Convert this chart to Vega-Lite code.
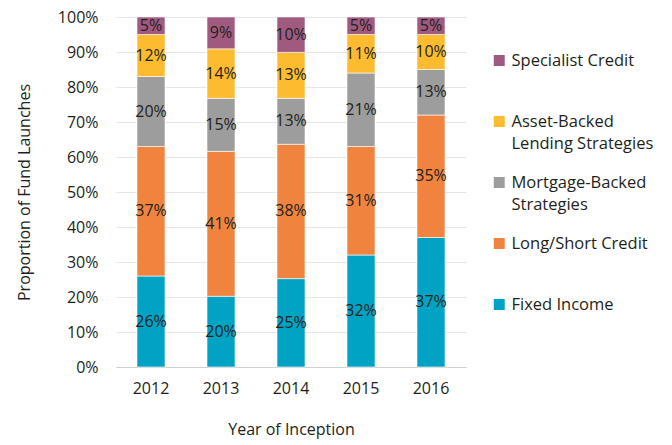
{
  "$schema": "https://vega.github.io/schema/vega-lite/v6.json",
  "width": 350,
  "height": 350,
  "autosize": {"type": "none"},
  "padding": {"left": 116, "top": 17, "right": 206, "bottom": 78},
  "background": "white",
  "config": {
    "font": "Open Sans",
    "view": {"stroke": null},
    "style": {"guide-label": {"lineHeight": 22}}
  },
  "data": {
    "values": [
      {"year": "2012", "series": "Fixed Income", "pct": 26},
      {"year": "2012", "series": "Long/Short Credit", "pct": 37},
      {"year": "2012", "series": "Mortgage-Backed Strategies", "pct": 20},
      {"year": "2012", "series": "Asset-Backed Lending Strategies", "pct": 12},
      {"year": "2012", "series": "Specialist Credit", "pct": 5},
      {"year": "2013", "series": "Fixed Income", "pct": 20},
      {"year": "2013", "series": "Long/Short Credit", "pct": 41},
      {"year": "2013", "series": "Mortgage-Backed Strategies", "pct": 15},
      {"year": "2013", "series": "Asset-Backed Lending Strategies", "pct": 14},
      {"year": "2013", "series": "Specialist Credit", "pct": 9},
      {"year": "2014", "series": "Fixed Income", "pct": 25},
      {"year": "2014", "series": "Long/Short Credit", "pct": 38},
      {"year": "2014", "series": "Mortgage-Backed Strategies", "pct": 13},
      {"year": "2014", "series": "Asset-Backed Lending Strategies", "pct": 13},
      {"year": "2014", "series": "Specialist Credit", "pct": 10},
      {"year": "2015", "series": "Fixed Income", "pct": 32},
      {"year": "2015", "series": "Long/Short Credit", "pct": 31},
      {"year": "2015", "series": "Mortgage-Backed Strategies", "pct": 21},
      {"year": "2015", "series": "Asset-Backed Lending Strategies", "pct": 11},
      {"year": "2015", "series": "Specialist Credit", "pct": 5},
      {"year": "2016", "series": "Fixed Income", "pct": 37},
      {"year": "2016", "series": "Long/Short Credit", "pct": 35},
      {"year": "2016", "series": "Mortgage-Backed Strategies", "pct": 13},
      {"year": "2016", "series": "Asset-Backed Lending Strategies", "pct": 10},
      {"year": "2016", "series": "Specialist Credit", "pct": 5}
    ]
  },
  "transform": [
    {"calculate": "indexof(['Fixed Income','Long/Short Credit','Mortgage-Backed Strategies','Asset-Backed Lending Strategies','Specialist Credit'], datum.series)", "as": "stackOrder"},
    {"calculate": "datum.pct + '%'", "as": "label"}
  ],
  "encoding": {
    "x": {
      "field": "year",
      "type": "ordinal",
      "scale": {"paddingInner": 0.6, "paddingOuter": 0.3},
      "axis": {
        "title": "Year of Inception",
        "titleFontSize": 16,
        "titleFontWeight": "normal",
        "titleColor": "#231f20",
        "titlePadding": 25,
        "labelAngle": 0,
        "labelFontSize": 16,
        "labelColor": "#231f20",
        "labelPadding": 13,
        "ticks": false,
        "domainColor": "#cfcfcf",
        "domainWidth": 1.2
      }
    },
    "y": {
      "field": "pct",
      "type": "quantitative",
      "stack": "normalize",
      "scale": {"domain": [0, 1]},
      "axis": {
        "title": "Proportion of Fund Launches",
        "titleFontSize": 16,
        "titleFontWeight": "normal",
        "titleColor": "#231f20",
        "titlePadding": 25,
        "format": ".0%",
        "values": [0, 0.1, 0.2, 0.3, 0.4, 0.5, 0.6, 0.7, 0.8, 0.9, 1],
        "labelOverlap": false,
        "labelFontSize": 16,
        "labelColor": "#231f20",
        "labelPadding": 18,
        "ticks": false,
        "domain": false,
        "gridColor": "#e6e6e6",
        "gridWidth": 1.2
      }
    },
    "order": {"field": "stackOrder", "type": "quantitative"}
  },
  "layer": [
    {
      "mark": {"type": "bar", "stroke": "white", "strokeWidth": 0.6},
      "encoding": {
        "color": {
          "field": "series",
          "type": "nominal",
          "scale": {
            "domain": ["Specialist Credit", "Asset-Backed Lending Strategies", "Mortgage-Backed Strategies", "Long/Short Credit", "Fixed Income"],
            "range": ["#a05a80", "#fdbb2f", "#9d9d9d", "#f0843f", "#00a3c4"]
          },
          "legend": {
            "title": null,
            "orient": "none",
            "legendX": 375,
            "legendY": 13,
            "symbolType": "square",
            "symbolSize": 120,
            "symbolStrokeWidth": 0,
            "labelFontSize": 16.5,
            "labelColor": "#231f20",
            "labelOffset": 4,
            "labelLimit": 300,
            "clipHeight": 61,
            "rowPadding": 0,
            "labelExpr": "datum.label == 'Asset-Backed Lending Strategies' ? ['Asset-Backed', 'Lending Strategies'] : datum.label == 'Mortgage-Backed Strategies' ? ['Mortgage-Backed', 'Strategies'] : datum.label"
          }
        }
      }
    },
    {
      "mark": {"type": "text", "fontSize": 16, "color": "#231f20"},
      "encoding": {
        "y": {"field": "pct", "type": "quantitative", "stack": "normalize", "bandPosition": 0.5},
        "text": {"field": "label", "type": "nominal"}
      }
    }
  ]
}
